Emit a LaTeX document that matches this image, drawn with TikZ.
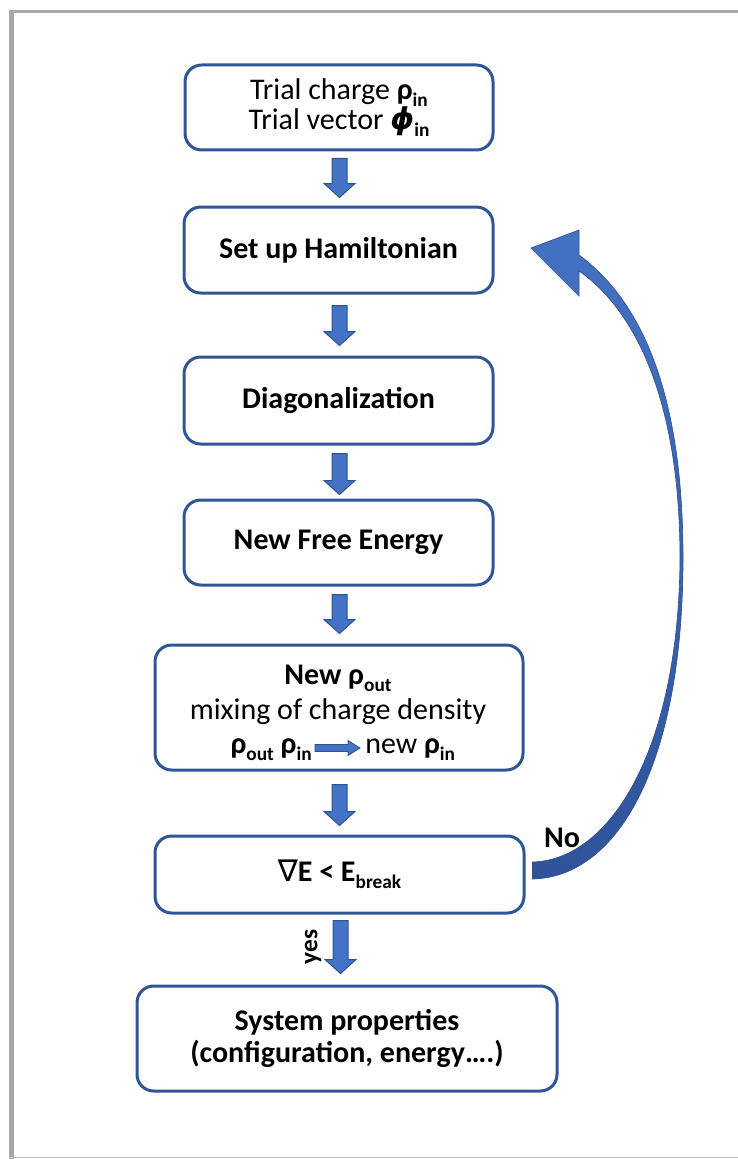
\documentclass[tikz,border=0pt]{standalone}
\usepackage{fontspec}
\setmainfont{Carlito}
\newfontfamily\dejavu{DejaVu Sans}
\usetikzlibrary{calc}
\definecolor{boxblue}{HTML}{2F5597}
\definecolor{arrowfill}{HTML}{4472C4}
\definecolor{arrowline}{HTML}{2F528F}
\definecolor{arrowdark}{HTML}{30539A}
\definecolor{framegray}{HTML}{A8A8A8}
\definecolor{framelight}{HTML}{C8C8C8}
\newcommand\mysub[1]{\raisebox{-0.25em}{\fontsize{14.5pt}{15pt}\selectfont\bfseries #1}}
\newcommand\rhob{\textbf{ρ}}
\newcommand\phib{{\dejavu\bfseries\itshape ϕ}}
\newcommand\blockdown[2]{%
  \coordinate (ba) at (#1); \coordinate (bt0) at (#2); \coordinate (bt) at (ba |- bt0);
  \filldraw[fill=arrowfill, draw=arrowline, line width=0.75pt]
    ($(ba)+(-7.5,0)$) -- ($(ba)+(7.5,0)$) -- ($(bt)+(7.5,-14)$) -- ($(bt)+(15.5,-14)$)
    -- (bt) -- ($(bt)+(-15.5,-14)$) -- ($(bt)+(-7.5,-14)$) -- cycle;}
\newcommand\blockright[2]{%
  \coordinate (ra) at (#1); \coordinate (rt0) at (#2); \coordinate (rt) at (rt0 |- ra);
  \filldraw[fill=arrowfill, draw=arrowline, line width=0.6pt]
    ($(ra)+(0,-3.5)$) -- ($(rt)+(-12,-3.5)$) -- ($(rt)+(-12,-7.5)$) -- (rt)
    -- ($(rt)+(-12,7.5)$) -- ($(rt)+(-12,3.5)$) -- ($(ra)+(0,3.5)$) -- cycle;}
\begin{document}
\begin{tikzpicture}[x=0.75pt,y=-0.75pt,
  flowbox/.style={draw=boxblue, line width=2.25pt, rounded corners=12.5pt, fill=white,
    align=center, inner sep=0pt, font=\fontsize{22.5pt}{23.5pt}\selectfont},
  boldbox/.style={flowbox, font=\fontsize{22.5pt}{23.5pt}\selectfont\bfseries},
  lbl/.style={inner sep=0pt, font=\fontsize{22.5pt}{23.5pt}\selectfont\bfseries},
  plain/.style={inner sep=0pt, font=\fontsize{22.5pt}{23.5pt}\selectfont},
]
\useasboundingbox (0,0) rectangle (738,1159);
% frame
\draw[framegray, line width=2.25pt] (9,11.5) -- (738,11.5);
\draw[framegray, line width=3.5pt] (11.5,10) -- (11.5,1159);
\draw[framelight, line width=1.2pt] (9,1157.5) -- (738,1157.5);

% boxes
\node[flowbox, minimum width=231pt, minimum height=63.75pt] (b1) at (339,107.5)
  {Trial charge \rhob\mysub{in}\\[-1pt]Trial vector \phib\mysub{in}};
\node[boldbox, minimum width=231.75pt, minimum height=64.5pt] (b2) at (338.5,250) {Set up Hamiltonian};
\node[boldbox, minimum width=231.75pt, minimum height=65.25pt] (b3) at (338.5,400.5) {Diagonalization};
\node[boldbox, minimum width=231.75pt, minimum height=63.75pt] (b4) at (338.5,542.5) {New Free Energy};
\node[flowbox, minimum width=276pt, minimum height=93.75pt] (b5) at (339,707.5) {};
\node[boldbox, minimum width=276.75pt, minimum height=57.75pt] (b6) at (339.5,874.5)
  {{\dejavu\mdseries\itshape ∇}E < E\mysub{break}};
\node[boldbox, minimum width=315pt, minimum height=78.75pt] (b7) at (347,1038.5)
  {System properties\\(configuration, energy….)};

% texts inside box 5
\node[lbl, anchor=base] (t5a) at (338,684) {New \rhob\mysub{out}};
\node[plain, anchor=base] (t5b) at (338,719) {mixing of charge density};
\node[lbl, anchor=base east] (t5c) at (312,753) {\rhob\mysub{out} \rhob\mysub{in}};
\node[plain, anchor=base west] (t5d) at (365,753) {new \rhob\mysub{in}};
\blockright{$(t5c.base east)+(3,-5)$}{$(t5d.base west)+(-5,-5)$}

% block arrows
\blockdown{$(b1.south)+(0.5,7)$}{$(b2.north)+(0,-8)$}
\blockdown{$(b2.south)+(1,11)$}{$(b3.north)+(0,-10)$}
\blockdown{$(b3.south)+(1,8)$}{$(b4.north)+(0,-4)$}
\blockdown{$(b4.south)+(1,8)$}{$(b5.north)+(0,-10)$}
\blockdown{$(b5.south)+(0.5,13)$}{$(b6.north)+(0,-9)$}
\blockdown{$(b6.south)+(1,6)$}{$(b7.north)+(0,-11)$}

% labels
\node[lbl, font=\fontsize{19pt}{19pt}\selectfont\bfseries, rotate=90] (yes) at (313,947) {yes};
\node[lbl] (no) at (562,838) {No};

% curved feedback arrow from b6 back to b2
\coordinate (cs) at ($(b6.east)+(7,0)$);
\shadedraw[top color=arrowfill, bottom color=arrowdark, draw=arrowline, line width=0.5pt]
  ($(cs)+(0,4.5)$) .. controls (620,877) and (683,760) .. (683,558)
  .. controls (683,390) and (640,300) .. (579,255)
  -- (579,230) -- (531,248) -- (579,296) -- (579,271)
  .. controls (635,310) and (680,400) .. (680,558)
  .. controls (679,750) and (610,860) .. ($(cs)+(0,-12.5)$) -- cycle;
\end{tikzpicture}
\end{document}
